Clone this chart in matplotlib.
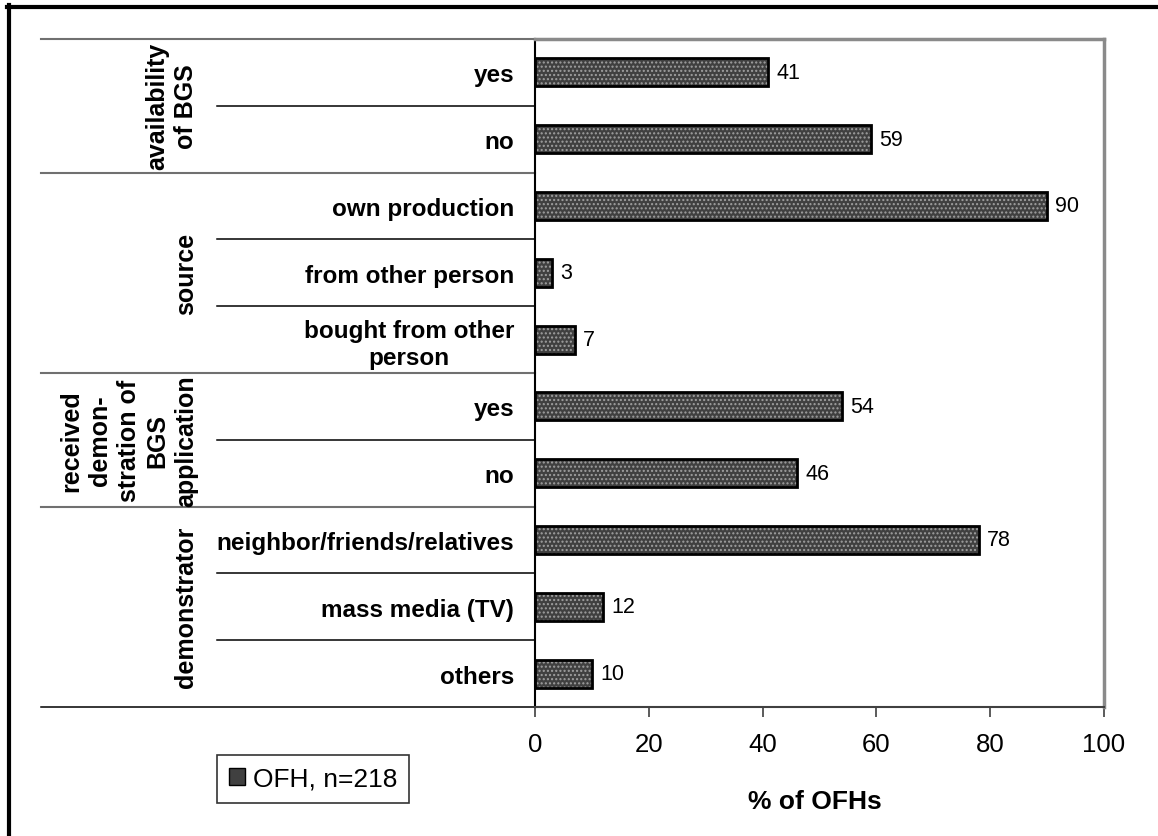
import matplotlib
matplotlib.use("Agg")
import matplotlib.pyplot as plt
from matplotlib.lines import Line2D
from matplotlib.patches import Patch

plt.rcParams['font.family'] = ['Liberation Sans', 'DejaVu Sans']

# data, top row first
categories = ["yes", "no", "own production", "from other person",
              "bought from other\nperson", "yes", "no",
              "neighbor/friends/relatives", "mass media (TV)", "others"]
values = [41, 59, 90, 3, 7, 54, 46, 78, 12, 10]
groups = ["availability\nof BGS", "source",
          "received\ndemon-\nstration of\nBGS\napplication", "demonstrator"]
group_rows = [(0, 1), (2, 4), (5, 6), (7, 9)]
xticks = [0, 20, 40, 60, 80, 100]
legend_label = "OFH, n=218"

W, H = 1158, 837
fig = plt.figure(figsize=(W / 100, H / 100), dpi=100)
ax = fig.add_axes([535 / W, 1 - 708 / H, (1104 - 535) / W, (708 - 40) / H])

y = list(range(len(categories)))
# stippled fill, then black outline
ax.barh(y, values, height=0.42, color='#404040', edgecolor='#a0a0a0',
        hatch='....', linewidth=0, zorder=2)
ax.barh(y, values, height=0.42, fill=False, edgecolor='black',
        linewidth=2, zorder=3)

for yi, v in zip(y, values):
    ax.annotate(str(v), (v, yi), xytext=(6, 0), textcoords='offset points',
                va='center', ha='left', fontsize=15.5)

ax.set_xlim(0, 100)
ax.set_ylim(len(categories) - 0.5, -0.5)
ax.set_xticks(xticks)
ax.tick_params(axis='x', length=7, width=1.2, pad=11, labelsize=18.5, color='#404040')
ax.set_yticks(y)
ax.set_yticklabels(categories, fontsize=17.5, fontweight='bold')
ax.tick_params(axis='y', length=0, pad=15)
for t in ax.get_yticklabels():
    t.set_multialignment('center')

ax.spines['left'].set_color('black')
ax.spines['left'].set_linewidth(1.5)
ax.spines['bottom'].set_color('#404040')
ax.spines['bottom'].set_linewidth(1.5)
for s in ['top', 'right']:
    ax.spines[s].set_color('#8a8a8a')
    ax.spines[s].set_linewidth(2.5)

# separators on the category axis
ytr = ax.get_yaxis_transform()
grp_x = (41 - 535) / 569
sub_x = (217 - 535) / 569
lab_x = (198 - 535) / 569
for (a, b), g in zip(group_rows, groups):
    ax.plot([grp_x, 0], [a - 0.5, a - 0.5], transform=ytr, clip_on=False,
            color='#707070', lw=1.5)
    for k in range(a + 1, b + 1):
        ax.plot([sub_x, 0], [k - 0.5, k - 0.5], transform=ytr, clip_on=False,
                color='black', lw=1.1)
    ax.text(lab_x, (a + b) / 2, g, transform=ytr, rotation=90, ha='right',
            va='center', multialignment='center', fontsize=18,
            fontweight='bold', linespacing=1.25)
ax.plot([grp_x, 0], [len(categories) - 0.5] * 2, transform=ytr,
        clip_on=False, color='black', lw=1.1)

fig.text(815 / W, 1 - 802 / H, "% of OFHs", ha='center', va='center',
         fontsize=19, fontweight='bold')

handle = Patch(facecolor='#404040', edgecolor='black', linewidth=1)
leg = fig.legend([handle], [legend_label], loc='upper left',
                 bbox_to_anchor=(217 / W, 1 - 756 / H), fontsize=19,
                 frameon=True, fancybox=False, edgecolor='black',
                 handlelength=0.62, handleheight=0.62, handletextpad=0.3,
                 borderpad=0.45, borderaxespad=0)
leg.get_frame().set_linewidth(1.2)

# outer frame (top and left only)
fig.add_artist(Line2D([7 / W, 1], [1 - 8 / H] * 2, color='black', lw=3))
fig.add_artist(Line2D([9 / W] * 2, [0, 1 - 6 / H], color='black', lw=3))

fig.savefig("out.png", dpi=100)
